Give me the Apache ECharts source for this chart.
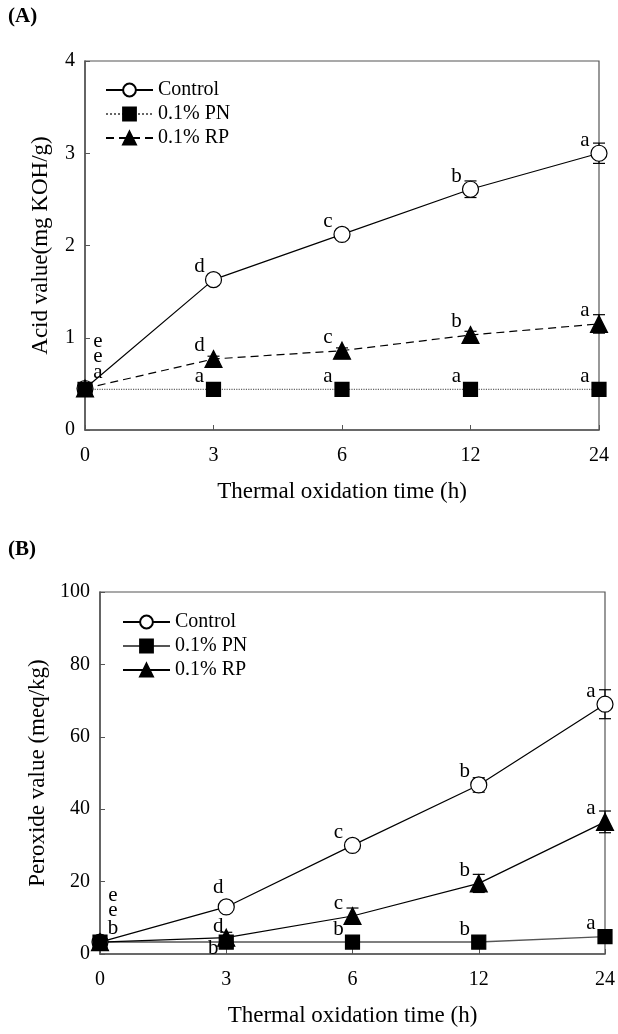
<!DOCTYPE html>
<html>
<head>
<meta charset="utf-8">
<script src="https://cdn.jsdelivr.net/npm/echarts@6/dist/echarts.min.js"></script>
<style>
html,body{margin:0;padding:0;background:#fff;}
#a{position:absolute;left:0;top:0;width:618px;height:517px;}
#b{position:absolute;left:0;top:517px;width:618px;height:517px;}
</style>
</head>
<body>
<div id="a"></div>
<div id="b"></div>
<script>
// ---------- data ----------
const xLabels = ['0', '3', '6', '12', '24'];
const seriesNames = ['Control', '0.1% PN', '0.1% RP'];

// Panel A: acid value (mg KOH/g)
const acidControl = [0.45, 1.63, 2.12, 2.61, 3.00];
const acidControlErr = [0.03, 0.03, 0.04, 0.09, 0.11];
const acidPN = [0.44, 0.44, 0.44, 0.44, 0.44];
const acidPNErr = [0.02, 0.02, 0.02, 0.02, 0.02];
const acidRP = [0.45, 0.77, 0.86, 1.03, 1.15];
const acidRPErr = [0.02, 0.03, 0.03, 0.04, 0.10];
const acidControlLetters = ['e', 'd', 'c', 'b', 'a'];
const acidPNLetters = ['a', 'a', 'a', 'a', 'a'];
const acidRPLetters = ['e', 'd', 'c', 'b', 'a'];
const acidTicks = [0, 1, 2, 3, 4];

// Panel B: peroxide value (meq/kg)
const perControl = [3.3, 13.0, 30.0, 46.7, 69.0];
const perControlErr = [0.3, 0.8, 1.0, 2.0, 4.0];
const perPN = [3.3, 3.3, 3.3, 3.3, 4.8];
const perPNErr = [0.3, 0.3, 0.3, 0.3, 0.5];
const perRP = [3.3, 4.5, 10.5, 19.5, 36.5];
const perRPErr = [0.3, 1.5, 2.2, 2.5, 3.0];
const perControlLetters = ['e', 'd', 'c', 'b', 'a'];
const perPNLetters = ['b', 'b', 'b', 'b', 'a'];
const perRPLetters = ['e', 'd', 'c', 'b', 'a'];
const perTicks = [0, 20, 40, 60, 80, 100];

// ---------- styling ----------
const FONT = "'Liberation Serif','Times New Roman',serif";
const AXIS = '#555';
const LETTER_STYLE = { color: '#000', fontFamily: FONT, fontSize: 21 };

// label offsets (style only)
function labelOffset(panel, key, i) {
  if (i === 0) {
    if (key === 'c') return [13, -47];
    if (key === 'r') return [13, -32];
    return panel === 'A' ? [13, -17] : [13, -14];
  }
  if (panel === 'B' && i === 1) {
    if (key === 'p') return [-13, 6];
    if (key === 'c') return [-8, -19];
    if (key === 'r') return [-8, -11];
  }
  return [-14, -13];
}

function errSeries(values, errs) {
  return {
    type: 'custom',
    z: 1,
    silent: true,
    data: values.map((v, i) => [i, v, errs[i]]),
    encode: { x: 0, y: 1 },
    renderItem: function (params, api) {
      const x = api.value(0), v = api.value(1), e = api.value(2);
      const t = api.coord([x, v + e]);
      const b = api.coord([x, v - e]);
      const hw = 6;
      const st = { stroke: '#000', lineWidth: 1.2 };
      return {
        type: 'group',
        children: [
          { type: 'line', shape: { x1: t[0], y1: t[1], x2: b[0], y2: b[1] }, style: st },
          { type: 'line', shape: { x1: t[0] - hw, y1: t[1], x2: t[0] + hw, y2: t[1] }, style: st },
          { type: 'line', shape: { x1: b[0] - hw, y1: b[1], x2: b[0] + hw, y2: b[1] }, style: st }
        ]
      };
    }
  };
}

function lineSeries(panel, key, name, values, letters, symbol, size, fill, lineStyle) {
  return {
    type: 'line',
    name: name,
    z: 3,
    symbol: symbol,
    symbolSize: size,
    itemStyle: { color: fill, borderColor: '#000', borderWidth: 1.2 },
    lineStyle: lineStyle,
    label: Object.assign({ show: true, position: 'inside' }, LETTER_STYLE),
    data: values.map((v, i) => ({
      value: v,
      label: Object.assign({
        show: true,
        position: 'inside',
        offset: labelOffset(panel, key, i),
        formatter: letters[i]
      }, LETTER_STYLE)
    })),
    emphasis: { disabled: true }
  };
}

function baseOption(cfg) {
  return {
    animation: false,
    textStyle: { fontFamily: FONT },
    graphic: [{
      type: 'text', left: 8, top: cfg.labelTop,
      style: { text: cfg.panel, font: 'bold 21px ' + FONT, fill: '#000' }
    }],
    grid: {
      left: cfg.left, right: cfg.right, top: cfg.top, bottom: cfg.bottom,
      show: true, borderColor: AXIS, borderWidth: 1.2, backgroundColor: 'transparent'
    },
    legend: {
      orient: 'vertical',
      left: cfg.legendLeft, top: cfg.legendTop,
      itemWidth: 47, itemHeight: 16, itemGap: 4,
      data: seriesNames,
      textStyle: { fontFamily: FONT, fontSize: 20, color: '#000' },
      selectedMode: false
    },
    xAxis: {
      type: 'category',
      data: xLabels,
      boundaryGap: false,
      name: 'Thermal oxidation time (h)',
      nameLocation: 'middle',
      nameGap: 50,
      nameTextStyle: { fontFamily: FONT, fontSize: 23, color: '#000' },
      axisLine: { lineStyle: { color: AXIS, width: 1.5 } },
      axisTick: { inside: true, length: 5, lineStyle: { color: AXIS } },
      axisLabel: { margin: 16, fontFamily: FONT, fontSize: 20, color: '#000' },
      splitLine: { show: false }
    },
    yAxis: {
      type: 'value',
      min: cfg.yTicks[0],
      max: cfg.yTicks[cfg.yTicks.length - 1],
      interval: cfg.yTicks[1] - cfg.yTicks[0],
      name: cfg.yName,
      nameLocation: 'middle',
      nameGap: cfg.yNameGap,
      nameTextStyle: { fontFamily: FONT, fontSize: 23, color: '#000' },
      axisLine: { show: true, lineStyle: { color: AXIS, width: 1.5 } },
      axisTick: { show: true, inside: true, length: 5, lineStyle: { color: AXIS } },
      axisLabel: { margin: 10, fontFamily: FONT, fontSize: 20, color: '#000' },
      splitLine: { show: false }
    }
  };
}

// ---------- Panel A ----------
const optA = baseOption({
  panel: '(A)', labelTop: 6,
  left: 85, right: 19, top: 61, bottom: 87,
  legendLeft: 100, legendTop: 75,
  yTicks: acidTicks, yName: 'Acid value(mg KOH/g)', yNameGap: 33
});
optA.series = [
  errSeries(acidControl, acidControlErr),
  errSeries(acidPN, acidPNErr),
  errSeries(acidRP, acidRPErr),
  lineSeries('A', 'c', 'Control', acidControl, acidControlLetters, 'circle', 16, '#fff',
    { color: '#000', width: 1.2, type: 'solid' }),
  lineSeries('A', 'p', '0.1% PN', acidPN, acidPNLetters, 'rect', 14, '#000',
    { color: '#666', width: 1.2, type: 'dotted' }),
  lineSeries('A', 'r', '0.1% RP', acidRP, acidRPLetters, 'triangle', 17, '#000',
    { color: '#000', width: 1.2, type: [8, 5] })
];

// ---------- Panel B ----------
const optB = baseOption({
  panel: '(B)', labelTop: 22,
  left: 100, right: 13, top: 75, bottom: 80,
  legendLeft: 117, legendTop: 90,
  yTicks: perTicks, yName: 'Peroxide value (meq/kg)', yNameGap: 48
});
optB.series = [
  errSeries(perControl, perControlErr),
  errSeries(perPN, perPNErr),
  errSeries(perRP, perRPErr),
  lineSeries('B', 'c', 'Control', perControl, perControlLetters, 'circle', 16, '#fff',
    { color: '#000', width: 1.2, type: 'solid' }),
  lineSeries('B', 'p', '0.1% PN', perPN, perPNLetters, 'rect', 14, '#000',
    { color: '#555', width: 1.4, type: 'solid' }),
  lineSeries('B', 'r', '0.1% RP', perRP, perRPLetters, 'triangle', 17, '#000',
    { color: '#000', width: 1.2, type: 'solid' })
];

echarts.init(document.getElementById('a'), null, { renderer: 'canvas' }).setOption(optA);
echarts.init(document.getElementById('b'), null, { renderer: 'canvas' }).setOption(optB);
</script>
</body>
</html>
